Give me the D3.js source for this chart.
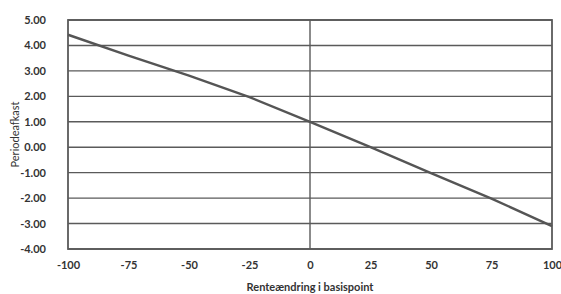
<!DOCTYPE html>
<html>
<head>
<meta charset="utf-8">
<script src="https://cdn.jsdelivr.net/npm/d3@7"></script>
<style>
  body { margin: 0; background: #fff; }
  text { font-family: Lato, "Open Sans", sans-serif; fill: #333; }
</style>
</head>
<body>
<div id="chart"></div>
<script>
// values
const basisPoints = [-100, -75, -50, -25, 0, 25, 50, 75, 100];
const periodReturn = [4.42, 3.6, 2.81, 1.97, 1.0, 0.0, -1.02, -2.02, -3.1];
const xTicks = [-100, -75, -50, -25, 0, 25, 50, 75, 100];
const yTicks = [5, 4, 3, 2, 1, 0, -1, -2, -3, -4];

const W = 561, H = 294;
const margin = { top: 20, right: 9, bottom: 45, left: 68 },
    width = W - margin.left - margin.right,
    height = H - margin.top - margin.bottom;

const svg = d3.select("#chart")
    .append("svg")
    .attr("width", W)
    .attr("height", H);

const g = svg.append("g")
    .attr("transform", `translate(${margin.left},${margin.top})`);

const x = d3.scaleLinear().domain([-100, 100]).range([0, width]);
const y = d3.scaleLinear().domain([-4, 5]).range([height, 0]);

// plain hyphen for negatives, like the original
const fmtY = d => d3.format(".2f")(d).replace("−", "-");
const fmtX = d => String(d);

// horizontal gridlines
g.selectAll(".grid")
    .data(yTicks)
    .join("line")
    .attr("x1", 0)
    .attr("x2", width)
    .attr("y1", d => y(d))
    .attr("y2", d => y(d))
    .attr("stroke", "#5a5a5a")
    .attr("stroke-width", 1.4);

// vertical line at zero
g.append("line")
    .attr("x1", x(0)).attr("x2", x(0))
    .attr("y1", 0).attr("y2", height)
    .attr("stroke", "#5a5a5a")
    .attr("stroke-width", 1.4);

// plot border
g.append("rect")
    .attr("width", width)
    .attr("height", height)
    .attr("fill", "none")
    .attr("stroke", "#5a5a5a")
    .attr("stroke-width", 1.8);

// axes (labels only)
const yAxis = g.append("g")
    .call(d3.axisLeft(y).tickValues(yTicks).tickSize(0).tickPadding(22).tickFormat(fmtY));
yAxis.select(".domain").remove();
yAxis.selectAll("text")
    .style("font-family", "Lato, sans-serif")
    .style("font-size", "11px")
    .style("font-weight", "700")
    .attr("fill", "#333");

const xAxis = g.append("g")
    .attr("transform", `translate(0,${height})`)
    .call(d3.axisBottom(x).tickValues(xTicks).tickSize(0).tickPadding(12).tickFormat(fmtX));
xAxis.select(".domain").remove();
xAxis.selectAll("text")
    .style("font-family", "Lato, sans-serif")
    .style("font-size", "11px")
    .style("font-weight", "700")
    .attr("fill", "#333");

// the line
const data = basisPoints.map((b, i) => ({ b: b, v: periodReturn[i] }));
g.append("path")
    .datum(data)
    .attr("fill", "none")
    .attr("stroke", "#555")
    .attr("stroke-width", 2.4)
    .attr("d", d3.line().x(d => x(d.b)).y(d => y(d.v)));

// axis titles
svg.append("text")
    .attr("x", margin.left + x(0))
    .attr("y", 291)
    .attr("text-anchor", "middle")
    .style("font-size", "11px")
    .style("font-weight", "700")
    .text("Renteændring i basispoint");

svg.append("text")
    .attr("transform", `translate(19,${margin.top + y(0.5)}) rotate(-90)`)
    .attr("text-anchor", "middle")
    .style("font-size", "11px")
    .text("Periodeafkast");
</script>
</body>
</html>
